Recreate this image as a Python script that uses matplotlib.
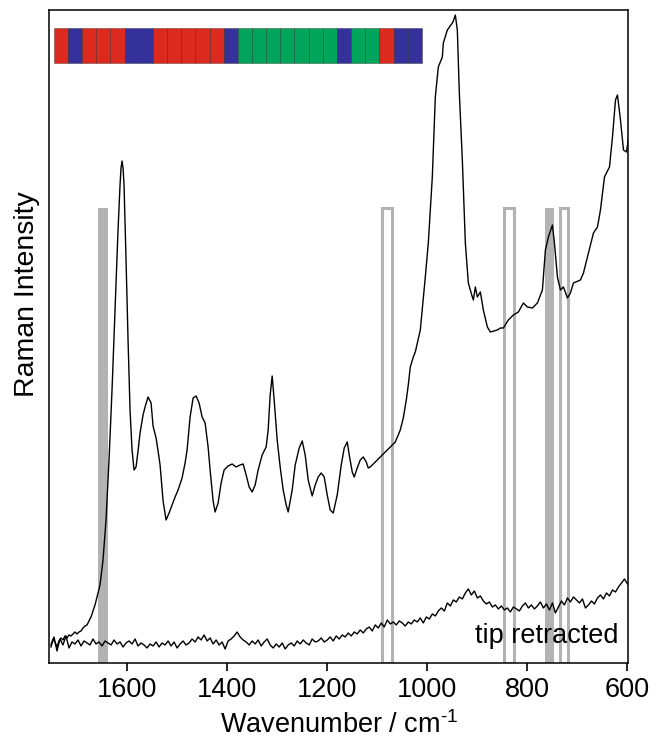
import numpy as np
import matplotlib
matplotlib.use("Agg")
import matplotlib.pyplot as plt
from matplotlib.patches import Rectangle

plt.rcParams['font.family'] = ['Liberation Sans', 'DejaVu Sans']
plt.rcParams['mathtext.fontset'] = 'custom'
plt.rcParams['mathtext.rm'] = 'Liberation Sans'

# ---- main spectrum (wavenumber, intensity a.u.) ----
main_wn = [1752, 1748, 1744, 1740, 1736, 1732, 1728, 1724, 1720, 1716, 1712, 1708, 1704, 1700,
           1696, 1692, 1688, 1684, 1680, 1676, 1672, 1668, 1664, 1660, 1654, 1648, 1642, 1636,
           1630, 1624, 1618, 1614, 1612, 1610, 1608, 1606, 1602, 1598, 1594, 1590, 1586, 1582,
           1578, 1574, 1568, 1564, 1558, 1552, 1548, 1542, 1538, 1534, 1528, 1522, 1516, 1510,
           1504, 1498, 1490, 1484, 1480, 1474, 1468, 1462, 1456, 1450, 1444, 1438, 1434, 1428,
           1424, 1418, 1412, 1406, 1398, 1390, 1382, 1374, 1368, 1362, 1356, 1350, 1344, 1338,
           1330, 1322, 1318, 1314, 1310, 1306, 1300, 1294, 1288, 1282, 1278, 1270, 1264, 1256,
           1250, 1244, 1238, 1230, 1224, 1218, 1212, 1206, 1200, 1194, 1188, 1180, 1172, 1166,
           1160, 1156, 1150, 1146, 1140, 1134, 1128, 1122, 1118, 1114, 1104, 1094, 1084, 1074,
           1064, 1054, 1048, 1042, 1038, 1034, 1028, 1024, 1014, 1004, 998, 990, 984, 978, 970,
           968, 960, 950, 948, 944, 940, 936, 930, 924, 918, 910, 908, 904, 900, 894, 888, 880,
           874, 860, 854, 848, 838, 828, 818, 808, 800, 790, 780, 770, 764, 758, 750, 746, 740,
           734, 728, 720, 714, 708, 694, 688, 678, 668, 660, 654, 646, 636, 630, 624, 620, 614,
           608, 602, 598]
main_int = [18, 24, 21, 16, 22, 25, 23, 27, 25, 28, 27, 29, 31, 29,
            31, 32, 35, 37, 38, 42, 46, 52, 58, 66, 78, 103, 143, 203,
            273, 353, 433, 478, 495, 502, 495, 478, 403, 323, 253, 213, 193, 196,
            212, 230, 248, 256, 266, 260, 237, 225, 212, 198, 162, 143, 150, 158,
            166, 173, 185, 200, 213, 246, 265, 267, 260, 246, 240, 216, 193, 162,
            151, 160, 180, 193, 197, 199, 196, 198, 199, 188, 176, 171, 178, 193,
            208, 216, 233, 268, 287, 263, 223, 196, 173, 158, 151, 173, 198, 215,
            222, 208, 183, 167, 178, 186, 190, 186, 168, 153, 150, 168, 198, 215,
            221, 208, 191, 186, 195, 203, 206, 201, 195, 196, 201, 206, 211, 216,
            221, 233, 245, 263, 278, 296, 306, 311, 333, 386, 420, 486, 566, 596, 606,
            620, 633, 640, 642, 648, 633, 570, 503, 420, 380, 366, 363, 376, 366, 371, 353, 336,
            331, 333, 335, 335, 343, 348, 351, 360, 356, 355, 360, 373, 413, 426, 438, 420, 386,
            373, 376, 365, 370, 380, 383, 390, 410, 430, 436, 453, 486, 496, 526, 563, 568, 543,
            513, 511, 525]

# ---- tip retracted spectrum (sampled every 6 cm-1 from 1752 to 600) ----
tip_start, tip_end = 1752, 600
tip_int = [16, 26, 12, 24, 18, 27, 15, 21, 19, 23,
           17, 22, 20, 18, 24, 19, 21, 17, 22, 20,
           18, 23, 19, 21, 16, 20, 22, 19, 24, 17,
           20, 18, 15, 19, 17, 21, 16, 20, 18, 22,
           17, 21, 15, 19, 22, 18, 20, 24, 21, 26,
           23, 28, 22, 25, 19, 23, 18, 21, 14, 22,
           24, 27, 31, 26, 23, 21, 18, 22, 19, 23,
           17, 21, 24, 18, 15, 19, 16, 20, 14, 18,
           20, 17, 22, 19, 23, 20, 18, 24, 21, 22,
           25, 21, 23, 26, 22, 27, 24, 28, 26, 30,
           27, 31, 29, 33, 30, 34, 36, 32, 38, 35,
           40, 36, 43, 39, 41, 38, 42, 40, 37, 41,
           39, 43, 41, 45, 40, 46, 44, 49, 47, 52,
           55, 52, 60, 57, 63, 61, 66, 64, 70, 74,
           68, 72, 65, 67, 62, 59, 61, 56, 58, 54,
           57, 53, 55, 51, 56, 54, 52, 57, 60, 55,
           58, 54, 57, 61, 55, 59, 53, 60, 50, 56,
           62, 58, 65, 61, 66, 63, 60, 64, 55, 58,
           62, 59, 65, 68, 64, 70, 67, 73, 71, 76,
           80, 84, 79]
tip_wn = np.linspace(tip_start, tip_end, len(tip_int))

# ---- marker bands ----
filled_centers = [1648, 756]
filled_widths = [19.5, 19]
open_centers = [1081, 837, 727]
open_widths = [21, 21, 17]
band_height = 455

# ---- classification strip ----
strip_codes = ['R', 'B', 'R', 'R', 'R', 'B', 'B', 'R', 'R', 'R', 'R', 'R', 'B',
               'G', 'G', 'G', 'G', 'G', 'G', 'G', 'B', 'G', 'G', 'R', 'B', 'B']
strip_colors = {'R': '#dc2b1e', 'B': '#34329a', 'G': '#00a55c'}

fig = plt.figure(figsize=(6.57, 7.41), dpi=100)
ax = fig.add_axes([0.0753, 0.1053, 0.8813, 0.8812])

gray = '#b3b3b3'
for c, w in zip(filled_centers, filled_widths):
    ax.add_patch(Rectangle((c - w / 2, 0), w, band_height, facecolor=gray,
                           edgecolor='none', zorder=1))
for c, w in zip(open_centers, open_widths):
    ax.add_patch(Rectangle((c - w / 2, 0), w, band_height, facecolor='none',
                           edgecolor=gray, linewidth=2.2, zorder=1))

ax.plot(main_wn, main_int, color='black', linewidth=1.0, zorder=3,
        solid_joinstyle='round')
ax.plot(tip_wn, tip_int, color='black', linewidth=1.0, zorder=3,
        solid_joinstyle='round')

# strip
strip_left, cell_w = 1746.5, 28.3
strip_bottom, strip_h = 600, 35
for i, code in enumerate(strip_codes):
    ax.add_patch(Rectangle((strip_left - (i + 1) * cell_w, strip_bottom), cell_w, strip_h,
                           facecolor=strip_colors[code], edgecolor=(0, 0, 0, 0.35),
                           linewidth=0.6, zorder=4))

ax.text(618, 27, 'tip retracted', fontsize=19.5, ha='right', va='center', zorder=5)

ax.set_xlim(1755, 598)
ax.set_ylim(0, 653)
ax.set_xticks([1600, 1400, 1200, 1000, 800, 600])
ax.set_xticklabels(['1600', '1400', '1200', '1000', '800', '600'])
ax.set_yticks([])
ax.tick_params(axis='x', direction='out', length=6, width=1.2, labelsize=19.5, pad=4)
for s in ax.spines.values():
    s.set_linewidth(1.1)
ax.set_xlabel(r'Wavenumber / cm$^{\mathrm{\text{-}1}}$', fontsize=19.5, labelpad=6)
ax.set_ylabel('Raman Intensity', fontsize=20.5)
ax.yaxis.set_label_coords(-0.016, 0.565)

fig.savefig('out.png', dpi=100)
